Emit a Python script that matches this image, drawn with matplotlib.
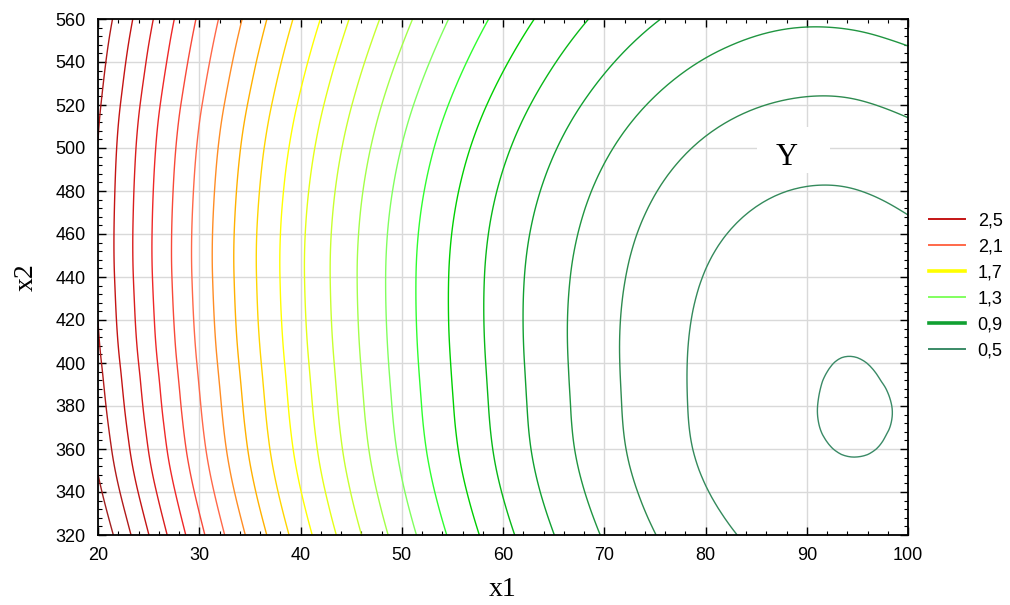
import matplotlib
matplotlib.use('Agg')
import matplotlib.pyplot as plt
import matplotlib.tri as mtri
import numpy as np
from matplotlib.colors import LinearSegmentedColormap
from matplotlib.lines import Line2D
from matplotlib.patches import Rectangle

# grid of Y values
x1 = [20, 30, 40, 50, 60, 70, 80, 90, 95, 100]
x2 = [320, 360, 380, 400, 440, 480, 520, 560]
y_320 = [2.787, 2.229, 1.750, 1.351, 1.032, 0.792, 0.633, 0.553, 0.543, 0.553]
y_360 = [2.675, 2.133, 1.669, 1.282, 0.972, 0.740, 0.585, 0.508, 0.498, 0.508]
y_380 = [2.644, 2.108, 1.649, 1.266, 0.961, 0.732, 0.579, 0.504, 0.494, 0.505]
y_400 = [2.619, 2.088, 1.634, 1.255, 0.954, 0.728, 0.579, 0.507, 0.499, 0.511]
y_440 = [2.589, 2.064, 1.616, 1.246, 0.952, 0.736, 0.597, 0.536, 0.534, 0.551]
y_480 = [2.590, 2.072, 1.632, 1.270, 0.985, 0.778, 0.648, 0.596, 0.599, 0.622]
y_520 = [2.615, 2.113, 1.687, 1.336, 1.061, 0.861, 0.737, 0.689, 0.693, 0.716]
y_560 = [2.672, 2.185, 1.772, 1.432, 1.167, 0.975, 0.857, 0.812, 0.818, 0.842]

levels = [0.5, 0.6, 0.7, 0.8, 0.9, 1.0, 1.1, 1.2, 1.3, 1.4, 1.5, 1.6,
          1.7, 1.8, 1.9, 2.0, 2.1, 2.2, 2.3, 2.4, 2.5, 2.6, 2.7]
legend_levels = [2.5, 2.1, 1.7, 1.3, 0.9, 0.5]
legend_labels = ['2,5', '2,1', '1,7', '1,3', '0,9', '0,5']

# colour scale of the levels
anchor_lv = [0.5, 0.7, 0.9, 1.1, 1.2, 1.3, 1.5, 1.7, 1.9, 2.1, 2.3, 2.5, 2.7]
anchor_col = ['#3a8a66', '#2e8b50', '#10a030', '#00d000', '#30ff30', '#80ff60',
              '#c8ff30', '#ffff00', '#ffb000', '#ff6a4a', '#f02828', '#c41414', '#a02020']
lo, hi = anchor_lv[0], anchor_lv[-1]
cmap = LinearSegmentedColormap.from_list(
    'stat', [((v - lo) / (hi - lo), c) for v, c in zip(anchor_lv, anchor_col)])

def lev_color(v):
    return cmap((v - lo) / (hi - lo))

Z = np.array([y_320, y_360, y_380, y_400, y_440, y_480, y_520, y_560])
X, Yg = np.meshgrid(x1, x2)

tri = mtri.Triangulation(X.ravel(), Yg.ravel())
interp = mtri.CubicTriInterpolator(tri, Z.ravel(), kind='min_E')
refiner = mtri.UniformTriRefiner(tri)
tri_f, z_f = refiner.refine_field(Z.ravel(), triinterpolator=interp, subdiv=4)

plt.rcParams['font.family'] = ['Liberation Sans', 'DejaVu Sans']
fig = plt.figure(figsize=(10.1, 6.05), dpi=100)
ax = fig.add_axes([98 / 1010, 70 / 605, 810 / 1010, 516 / 605])

ax.tricontour(tri_f, z_f, levels=levels, colors=[lev_color(v) for v in levels],
              linewidths=1.0, zorder=2)

ax.set_xlim(20, 100)
ax.set_ylim(320, 560)
ax.set_xticks(np.arange(20, 101, 10))
ax.set_yticks(np.arange(320, 561, 20))
ax.set_xticks(np.arange(20, 101, 2), minor=True)
ax.set_yticks(np.arange(320, 561, 4), minor=True)
ax.tick_params(which='both', direction='in', top=True, right=True, colors='black')
ax.tick_params(which='major', length=6, width=1.0, labelsize=13, pad=9)
ax.tick_params(which='minor', length=3, width=0.8)
ax.grid(True, which='major', color='#d9d9d9', linewidth=1.0)
ax.set_axisbelow(True)
for s in ax.spines.values():
    s.set_linewidth(1.3)

ax.add_patch(Rectangle((85.1, 488.4), 7.2, 21.4, facecolor='white',
                       edgecolor='none', zorder=1))
ax.text(88.05, 495.8, 'Y', family='Liberation Serif', fontsize=22,
        ha='center', va='center', zorder=3)

ax.set_xlabel('x1', family='Liberation Serif', fontsize=20, labelpad=9)
ax.set_ylabel('x2', family='Liberation Serif', fontsize=20, labelpad=12)

handles = []
for v in legend_levels:
    lw = 2.6 if v in (1.7, 0.9) else 1.4
    handles.append(Line2D([0], [0], color=lev_color(v), lw=lw))
ax.legend(handles, legend_labels, loc='upper left', frameon=False,
          bbox_to_anchor=(929 / 1010, 1 - 212 / 605), bbox_transform=fig.transFigure,
          fontsize=13, handlelength=2.0, handletextpad=0.7, labelspacing=0.5,
          borderpad=0, borderaxespad=0)

fig.savefig('out.png', dpi=100)
